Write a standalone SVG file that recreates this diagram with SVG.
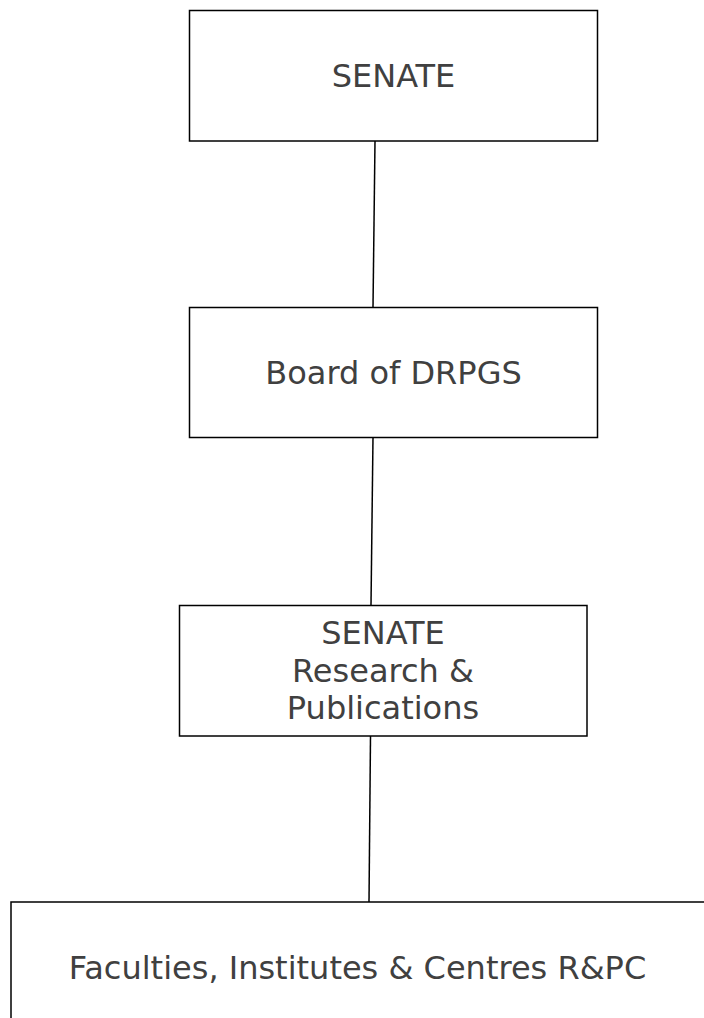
<svg xmlns="http://www.w3.org/2000/svg" width="704" height="1018" viewBox="0 0 704 1018">
<style>
.box{fill:#fff;stroke:#000;stroke-width:1.5}
.lbl{font-family:"DejaVu Sans",Verdana,sans-serif;font-size:32px;fill:#404040;text-anchor:middle}
.conn line{stroke:#000;stroke-width:1.5}
</style>
<rect width="704" height="1018" fill="#fff"/>
<g id="connectors" class="conn">
<line x1="375" y1="141" x2="373" y2="307"/>
<line x1="373" y1="437" x2="371" y2="605"/>
<line x1="370.5" y1="736" x2="369" y2="902"/>
</g>
<g id="senate">
<rect class="box" x="189.5" y="10.5" width="408" height="130.5"/>
<text class="lbl" x="393.5" y="87">SENATE</text>
</g>
<g id="board">
<rect class="box" x="189.5" y="307.5" width="408" height="130"/>
<text class="lbl" x="393.5" y="383.5">Board of DRPGS</text>
</g>
<g id="senate-rp">
<rect class="box" x="179.5" y="605.5" width="407.5" height="130.5"/>
<text class="lbl" x="383" y="644">SENATE</text>
<text class="lbl" x="383" y="681.5">Research &amp;</text>
<text class="lbl" x="383" y="719">Publications</text>
</g>
<g id="faculties">
<rect class="box" x="11" y="902" width="720" height="140"/>
<text class="lbl" x="357.5" y="979">Faculties, Institutes &amp; Centres R&amp;PC</text>
</g>
</svg>
